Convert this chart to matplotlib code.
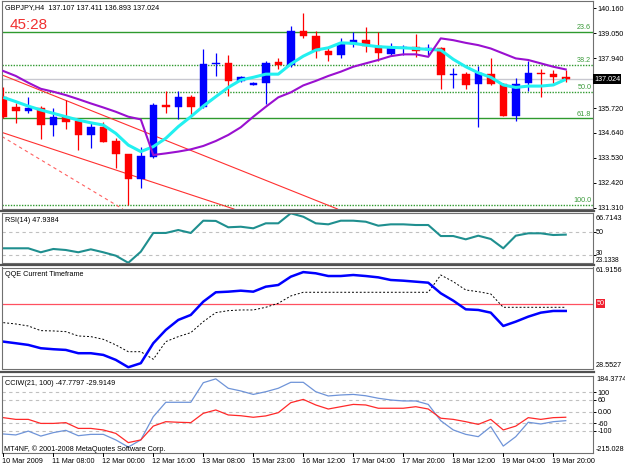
import matplotlib
matplotlib.use("Agg")
import matplotlib.pyplot as plt
import numpy as np
from matplotlib.transforms import blended_transform_factory as btf

plt.rcParams['font.family'] = ['Liberation Sans', 'DejaVu Sans']

# ---------------- data ----------------
symbol = "GBPJPY,H4"
timer_text = "45:28"

opens = [136.24, 135.79, 135.62, 135.75, 134.98, 135.35, 135.16, 134.54, 134.91, 134.27,
         133.69, 132.57, 133.57, 135.87, 135.76, 136.21, 135.79, 137.69, 137.72, 136.95,
         136.77, 136.86, 137.78, 137.64, 139.17, 138.93, 138.28, 138.09, 138.58, 138.75,
         138.50, 138.12, 138.38, 138.46, 138.31, 138.38, 137.20, 137.24, 136.80, 137.24,
         136.80, 135.39, 136.83, 137.27, 137.24, 137.107]
highs = [136.65, 135.94, 136.24, 135.82, 135.72, 136.09, 135.28, 135.13, 135.13, 134.39,
         133.69, 134.02, 135.97, 136.50, 136.50, 136.31, 138.34, 138.16, 138.09, 137.16,
         136.87, 137.84, 137.98, 139.37, 139.97, 139.17, 138.46, 138.83, 139.12, 139.32,
         139.12, 138.61, 138.53, 139.02, 138.58, 138.46, 137.50, 137.35, 137.61, 137.94,
         136.86, 137.05, 137.84, 137.45, 137.42, 137.411]
lows = [135.28, 135.08, 135.50, 134.34, 134.49, 134.79, 133.87, 133.97, 134.21, 133.06,
        131.43, 132.17, 133.50, 135.53, 135.23, 135.42, 135.72, 137.16, 136.28, 136.89,
        136.74, 135.90, 137.45, 137.57, 138.83, 137.94, 137.84, 137.98, 138.43, 138.24,
        137.84, 138.09, 138.09, 138.01, 138.09, 136.56, 136.61, 136.56, 134.88, 136.76,
        135.39, 135.17, 136.50, 136.24, 136.86, 136.893]
closes = [135.35, 135.62, 135.75, 134.98, 135.32, 135.13, 134.54, 134.91, 134.21, 133.68,
          132.57, 133.62, 135.87, 135.79, 136.21, 135.79, 137.69, 137.75, 136.95, 137.13,
          136.85, 137.75, 137.64, 139.17, 138.93, 138.28, 138.09, 138.58, 138.75, 138.50,
          138.16, 138.41, 138.46, 138.28, 138.38, 137.20, 137.24, 136.76, 137.27, 136.80,
          135.39, 136.80, 137.27, 137.24, 137.10, 137.024]

ma_fast = [136.21, 136.02, 135.82, 135.65, 135.50, 135.35, 135.20, 135.08, 134.98, 134.61,
           134.09, 133.80, 134.02, 134.39, 134.91, 135.35, 135.82, 136.24, 136.65, 136.98,
           137.10, 137.24, 137.24, 137.69, 138.04, 138.31, 138.41, 138.63, 138.61, 138.53,
           138.46, 138.43, 138.41, 138.38, 138.34, 138.31, 137.90, 137.57, 137.30, 137.10,
           136.76, 136.65, 136.71, 136.71, 136.76, 137.01]
ma_slow = [137.38, 137.16, 136.86, 136.59, 136.46, 136.31, 136.13, 135.94, 135.76, 135.57,
           135.35, 135.23, 133.65, 133.72, 133.80, 133.90, 134.05, 134.27, 134.54, 134.88,
           135.35, 135.79, 136.21, 136.43, 136.74, 136.94, 137.16, 137.35, 137.57, 137.72,
           137.87, 138.04, 138.12, 138.12, 138.01, 138.83, 138.75, 138.63, 138.53, 138.38,
           138.16, 137.94, 137.87, 137.72, 137.57, 137.45]

# Fibonacci retracement anchors and ratios
fib_high = 141.49
fib_low = 131.43
fib_ratios = [23.6, 38.2, 50.0, 61.8, 100.0]

# trend lines: (bar, price) endpoints
trend_a = [(-0.26, 137.24), (25.34, 131.56)]
trend_b = [(-0.26, 134.68), (18.67, 131.21)]
trend_c = [(-0.26, 134.52), (8.78, 131.51)]

price_ticks = [140.160, 139.050, 137.940, 135.720, 134.640, 133.530, 132.420, 131.310]

rsi = [35.9, 35.9, 35.9, 32.4, 35.3, 34.4, 32.4, 35.0, 32.4, 29.4,
       23.1338, 32.9, 49.4, 49.4, 52.0, 49.4, 60.2, 60.0, 54.4, 54.9,
       53.5, 57.9, 57.9, 66.7143, 63.7, 57.9, 57.0, 60.2, 60.2, 59.3,
       55.8, 57.0, 57.0, 56.4, 56.4, 46.7, 46.7, 43.8, 47.0, 44.1,
       35.9, 47.0, 49.1, 49.1, 47.6, 47.9384]
rsi_levels = [50, 30]
rsi_range = [23.1338, 66.7143]

qqe_main = [37.43, 36.9, 36.34, 35.25, 34.92, 34.69, 33.6, 33.6, 33.04, 31.4,
            28.97, 30.3, 36.9, 41.29, 44.6, 46.24, 50.63, 53.73, 53.93, 54.26,
            53.93, 55.58, 56.14, 58.88, 60.4, 60.0, 59.1, 59.1, 59.44, 59.1,
            58.66, 57.79, 57.56, 57.23, 56.9, 53.4, 50.96, 48.1, 47.89, 47.0,
            42.6, 44.03, 45.68, 47.0, 47.56, 47.56]
qqe_signal = [43.7, 43.26, 42.6, 41.06, 40.96, 40.73, 39.3, 39.08, 38.2, 36.34,
              34.1, 34.1, 31.6, 37.43, 39.08, 40.4, 44.03, 47.0, 47.66, 47.89,
              47.89, 48.77, 50.1, 52.51, 53.73, 53.73, 53.73, 53.73, 53.73, 53.73,
              53.73, 53.73, 53.73, 53.73, 53.73, 59.44, 57.23, 54.49, 53.93, 53.17,
              48.77, 48.77, 48.77, 48.77, 48.77, 48.77]
qqe_level = 50
qqe_range = [28.5527, 61.9156]

cci_slow = [-117, -122, -102, -128, -110, -98, -126, -119, -119, -148,
            -185, -148, -27, 48, 48, 48, 150, 170, 121, 107,
            89, 103, 121, 152, 152, 103, 81, 86, 89, 82,
            69, 60, 55, 55, 37, -48, -96, -119, -131, -79,
            -180, -131, -56, -65, -53, -47.7797]
cci_fast = [-32, -41, -41, -62, -62, -58, -88, -88, -96, -114,
            -162, -148, -76, -53, -56, -58, -9.5, 8, -18, -22,
            -30, -23, -6, 46, 63, 34, 13, 25, 37, 34,
            17, 17, 17, 25, 13, -35, -41, -53, -67, -41,
            -96, -76, -32, -41, -32, -29.9149]
cci_levels = [100, 60, 0, -60, -100]
cci_level_labels = ["100", "60", "0.00", "-60", "-100"]
cci_range = [-215.028, 184.3774]

time_tick_bars = [0, 4, 8, 12, 16, 20, 24, 28, 32, 36, 40, 44]
time_tick_labels = ["10 Mar 2009", "11 Mar 08:00", "12 Mar 00:00", "12 Mar 16:00",
                    "13 Mar 08:00", "15 Mar 23:00", "16 Mar 12:00", "17 Mar 04:00",
                    "17 Mar 20:00", "18 Mar 12:00", "19 Mar 04:00", "19 Mar 20:00"]

# ---------------- figure ----------------
W, H = 625, 469
fig = plt.figure(figsize=(W / 100, H / 100), dpi=100)
fig.patch.set_facecolor('white')

LEFT, RIGHT = 2, 593
XLIM = (-0.104, 47.18)
FS = 5.2


def add_panel(top, bottom):
    ax = fig.add_axes([LEFT / W, 1 - bottom / H, (RIGHT - LEFT) / W, (bottom - top) / H])
    ax.set_xlim(*XLIM)
    ax.set_xticks([])
    ax.yaxis.tick_right()
    ax.tick_params(axis='y', labelsize=FS, length=2.5, pad=1, width=0.7, colors='black')
    for s in ax.spines.values():
        s.set_color('#707070')
        s.set_linewidth(0.8)
    ax.set_facecolor('white')
    return ax


ax_main = add_panel(1, 209)
ax_rsi = add_panel(213.3, 262.8)
ax_qqe = add_panel(267.5, 368.5)
ax_cci = add_panel(376.1, 452.8)

# separators between sub-windows
for ysep in [211.0, 265.2, 372.3]:
    fig.add_artist(plt.Line2D([0, RIGHT / W + 0.002], [1 - ysep / H] * 2,
                              color='#505050', lw=1.6, transform=fig.transFigure))

# ---------------- main chart ----------------
x = np.arange(len(closes))
o = np.array(opens); h = np.array(highs); l = np.array(lows); c = np.array(closes)
bull = c >= o
cols = np.where(bull, '#0000ff', '#ff0000')
ax_main.set_ylim(131.25, 140.49)

# fibonacci lines
fib_styles = ['-', (0, (1, 1)), (0, (1, 1)), '-', (0, (1, 1))]
for r, ls in zip(fib_ratios, fib_styles):
    lvl = fib_high - r / 100 * (fib_high - fib_low)
    ax_main.axhline(lvl, color='#2f9a2f', lw=1.0, ls=ls, zorder=1)
    ax_main.text(0.997, lvl + 0.03, f"{r:.1f}", transform=btf(ax_main.transAxes, ax_main.transData),
                 fontsize=FS, color='#3a9a3a', ha='right', va='bottom')

# bid line
ax_main.axhline(closes[-1], color='#c8c8d0', lw=1.0, zorder=1)

# trend lines
for seg, ls, col in [(trend_a, '-', '#ff3030'), (trend_b, '-', '#ff3030'), (trend_c, (0, (3, 3)), '#ff6060')]:
    ax_main.axline(seg[0], seg[1], color=col, lw=0.8, ls=ls, zorder=2)

# candles
ax_main.vlines(x, l, h, colors=cols, lw=0.9, zorder=3)
body_lo = np.minimum(o, c)
body_h = np.maximum(np.abs(c - o), 0.04)
ax_main.bar(x, body_h, bottom=body_lo, width=0.6, color=cols, edgecolor=cols, lw=0.3, zorder=4)

# moving averages
ax_main.plot(x, ma_fast, color='#22f0f0', lw=2.2, zorder=5, solid_capstyle='butt')
ax_main.plot(x, ma_slow, color='#9a10d0', lw=1.5, zorder=5)

ax_main.set_yticks(price_ticks)
ax_main.set_yticklabels([f"{p:.3f}" for p in price_ticks])

# current price box
ax_main.text(594 / W, closes[-1], f"{closes[-1]:.3f}", transform=btf(fig.transFigure, ax_main.transData),
             fontsize=FS, color='white', ha='left', va='center', zorder=10,
             bbox=dict(facecolor='black', edgecolor='none', pad=0.9))

fig.text(5 / W, 1 - 8 / H, f"{symbol}  {opens[-1]:.3f} {highs[-1]:.3f} {lows[-1]:.3f} {closes[-1]:.3f}",
         fontsize=FS, color='black', ha='left', va='center')
fig.text(10 / W, 1 - 25 / H, timer_text, fontsize=11, color='#f03030', ha='left', va='center')

# ---------------- RSI ----------------
ax_rsi.set_ylim(*rsi_range)
for lv in rsi_levels:
    ax_rsi.axhline(lv, color='#c0c0c0', lw=0.8, ls=(0, (3, 3)))
ax_rsi.plot(x, rsi, color='#1f8f8f', lw=1.5)
ax_rsi.set_yticks(rsi_levels)
ax_rsi.set_yticklabels(["" for v in rsi_levels])
fy = fig.transFigure
ax_rsi.text(596 / W, 1 - 232.3 / H, str(rsi_levels[0]), transform=fy, fontsize=FS, ha='left', va='center')
ax_rsi.text(596 / W, 1 - 253.6 / H, str(rsi_levels[1]), transform=fy, fontsize=4.8, ha='left', va='center')
ax_rsi.text(596 / W, 1 - 218.0 / H, f"{rsi_range[1]:.4f}", transform=fy, fontsize=FS, ha='left', va='center')
ax_rsi.text(596 / W, 1 - 260.6 / H, f"{rsi_range[0]:.4f}", transform=fy, fontsize=4.8, ha='left', va='center')
ax_rsi.text(0.005, 0.86, f"RSI(14) {rsi[-1]:.4f}", transform=ax_rsi.transAxes,
            fontsize=FS, ha='left', va='center')

# ---------------- QQE ----------------
ax_qqe.set_ylim(*qqe_range)
ax_qqe.axhline(qqe_level, color='#ff5060', lw=0.9)
ax_qqe.plot(x, qqe_signal, color='black', lw=0.7, ls=(0, (2, 2)))
ax_qqe.plot(x, qqe_main, color='#0000ff', lw=1.8)
ax_qqe.set_yticks([])
ax_qqe.text(596 / W, 1.0, f"{qqe_range[1]:.4f}", transform=btf(fig.transFigure, ax_qqe.transAxes),
            fontsize=FS, ha='left', va='top')
ax_qqe.text(596 / W, 0.0, f"{qqe_range[0]:.4f}", transform=btf(fig.transFigure, ax_qqe.transAxes),
            fontsize=FS, ha='left', va='bottom')
ax_qqe.text(596.5 / W, qqe_level, f"{qqe_level}", transform=btf(fig.transFigure, ax_qqe.transData),
            fontsize=FS, color='white', ha='left', va='center',
            bbox=dict(facecolor='#f02030', edgecolor='none', pad=0.6))
ax_qqe.text(0.005, 0.93, "QQE Current Timeframe", transform=ax_qqe.transAxes,
            fontsize=FS, ha='left', va='center')

# ---------------- CCI ----------------
ax_cci.set_ylim(*cci_range)
for lv in cci_levels:
    ax_cci.axhline(lv, color='#c0c0c0', lw=0.8, ls=(0, (3, 3)))
ax_cci.plot(x, cci_slow, color='#6f94d8', lw=0.9)
ax_cci.plot(x, cci_fast, color='#ff2a2a', lw=0.9)
ax_cci.set_yticks(cci_levels)
ax_cci.set_yticklabels(cci_level_labels)
ax_cci.text(596 / W, 1.0, f"{cci_range[1]:.4f}", transform=btf(fig.transFigure, ax_cci.transAxes),
            fontsize=FS, ha='left', va='top')
ax_cci.text(596 / W, 0.0, f"{cci_range[0]:.3f}", transform=btf(fig.transFigure, ax_cci.transAxes),
            fontsize=FS, ha='left', va='bottom')
ax_cci.text(0.005, 0.91, f"CCIW(21, 100) {cci_slow[-1]:.4f} {cci_fast[-1]:.4f}", transform=ax_cci.transAxes,
            fontsize=FS, ha='left', va='center')
ax_cci.text(0.004, 0.05, "MT4NF, © 2001-2008 MetaQuotes Software Corp.", transform=ax_cci.transAxes,
            fontsize=FS, ha='left', va='center')

# time axis
tt = btf(ax_cci.transData, fig.transFigure)
for b, lab in zip(time_tick_bars, time_tick_labels):
    ax_cci.text(b - 0.12, 1 - 461.5 / H, lab, transform=tt, fontsize=FS, ha='left', va='center',
                clip_on=False)
    fig.add_artist(plt.Line2D([b, b], [1 - 453 / H, 1 - 456 / H], transform=tt, color='black', lw=0.7))

fig.savefig("out.png", dpi=100, facecolor='white')
